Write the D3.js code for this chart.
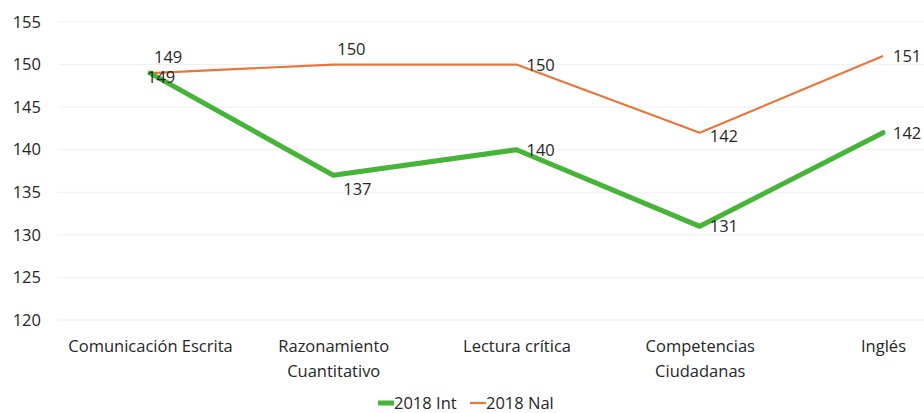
<!DOCTYPE html>
<html>
<head>
<meta charset="utf-8">
<script src="https://cdn.jsdelivr.net/npm/d3@7"></script>
<style>
  html, body { margin: 0; padding: 0; background: #ffffff; }
  svg { display: block; }
  text { font-family: "Open Sans", "Noto Sans", sans-serif; fill: #262626; }
</style>
</head>
<body>
<svg id="chart" width="924" height="413"></svg>
<script>
// ---- data ----
const categories = [["Comunicación Escrita"], ["Razonamiento", "Cuantitativo"], ["Lectura crítica"], ["Competencias", "Ciudadanas"], ["Inglés"]];
const categoryKeys = ["Comunicación Escrita", "Razonamiento Cuantitativo", "Lectura crítica", "Competencias Ciudadanas", "Inglés"];
const int2018 = [149, 137, 140, 131, 142];
const nal2018 = [149, 150, 150, 142, 151];
const yTicks = [120, 125, 130, 135, 140, 145, 150, 155];
const seriesNames = ["2018 Int", "2018 Nal"];
// label placement keys (Excel-like)
const intLabelPos = ["belowTight", "belowRight", "right", "right", "right"];
const nalLabelPos = ["aboveRight", "aboveRight", "right", "rightLow", "right"];

// ---- layout ----
const svg = d3.select("#chart");
const fontSize = 16.5;
const x = d3.scalePoint().domain(categoryKeys).range([150, 883]);
const y = d3.scaleLinear().domain([120, 155]).range([320, 22]);
const colors = { int: "#45b437", nal: "#ea7538" };

// gridlines
svg.append("g")
  .selectAll("line")
  .data(yTicks)
  .join("line")
  .attr("x1", 58).attr("x2", 924)
  .attr("y1", d => y(d)).attr("y2", d => y(d))
  .attr("stroke", "#efefef").attr("stroke-width", 1);

// y axis (labels only)
const yAxis = d3.axisLeft(y).tickValues(yTicks).tickSize(0).tickPadding(0);
const gy = svg.append("g").attr("transform", "translate(41,0)").call(yAxis);
gy.select(".domain").remove();
gy.selectAll("text")
  .style("font-family", '"Open Sans", "Noto Sans", sans-serif')
  .style("font-size", fontSize + "px")
  .attr("fill", "#262626");

// x axis (labels only, multi-line)
const xAxis = d3.axisBottom(x).tickSize(0).tickFormat("");
const gx = svg.append("g").attr("transform", "translate(0,341)").call(xAxis);
gx.select(".domain").remove();
gx.selectAll(".tick").each(function(d, i) {
  const t = d3.select(this).append("text")
    .attr("text-anchor", "middle")
    .style("font-size", fontSize + "px")
    .attr("fill", "#262626");
  categories[i].forEach((line, j) => {
    t.append("tspan").attr("x", 0).attr("y", 11 + j * 25).text(line);
  });
});

// lines
const line = d3.line()
  .x((d, i) => x(categoryKeys[i]))
  .y(d => y(d));

svg.append("path").datum(nal2018)
  .attr("d", line).attr("fill", "none")
  .attr("stroke", colors.nal).attr("stroke-width", 2.2)
  .attr("stroke-linejoin", "round");

svg.append("path").datum(int2018)
  .attr("d", line).attr("fill", "none")
  .attr("stroke", colors.int).attr("stroke-width", 5)
  .attr("stroke-linejoin", "round").attr("stroke-linecap", "round");

// data labels
const offsets = {
  right: [10, 6],
  rightLow: [10, 9],
  aboveRight: [4, -10],
  belowRight: [10, 20],
  belowTight: [-3, 10]
};
function labels(values, pos) {
  svg.append("g").selectAll("text")
    .data(values)
    .join("text")
    .attr("x", (d, i) => x(categoryKeys[i]) + offsets[pos[i]][0])
    .attr("y", (d, i) => y(d) + offsets[pos[i]][1])
    .style("font-size", fontSize + "px")
    .attr("fill", "#1a1a1a")
    .text(d => d);
}
labels(nal2018, nalLabelPos);
labels(int2018, intLabelPos);

// legend
const legend = svg.append("g").attr("transform", "translate(0,403)");
const legendItems = [
  { name: seriesNames[0], color: colors.int, w: 5, x: 378 },
  { name: seriesNames[1], color: colors.nal, w: 2.2, x: 470 }
];
legendItems.forEach(it => {
  legend.append("line")
    .attr("x1", it.x).attr("x2", it.x + 16)
    .attr("y1", 0).attr("y2", 0)
    .attr("stroke", it.color).attr("stroke-width", it.w);
  legend.append("text")
    .attr("x", it.x + 16).attr("y", 6)
    .style("font-size", fontSize + "px")
    .text(it.name);
});
</script>
</body>
</html>
